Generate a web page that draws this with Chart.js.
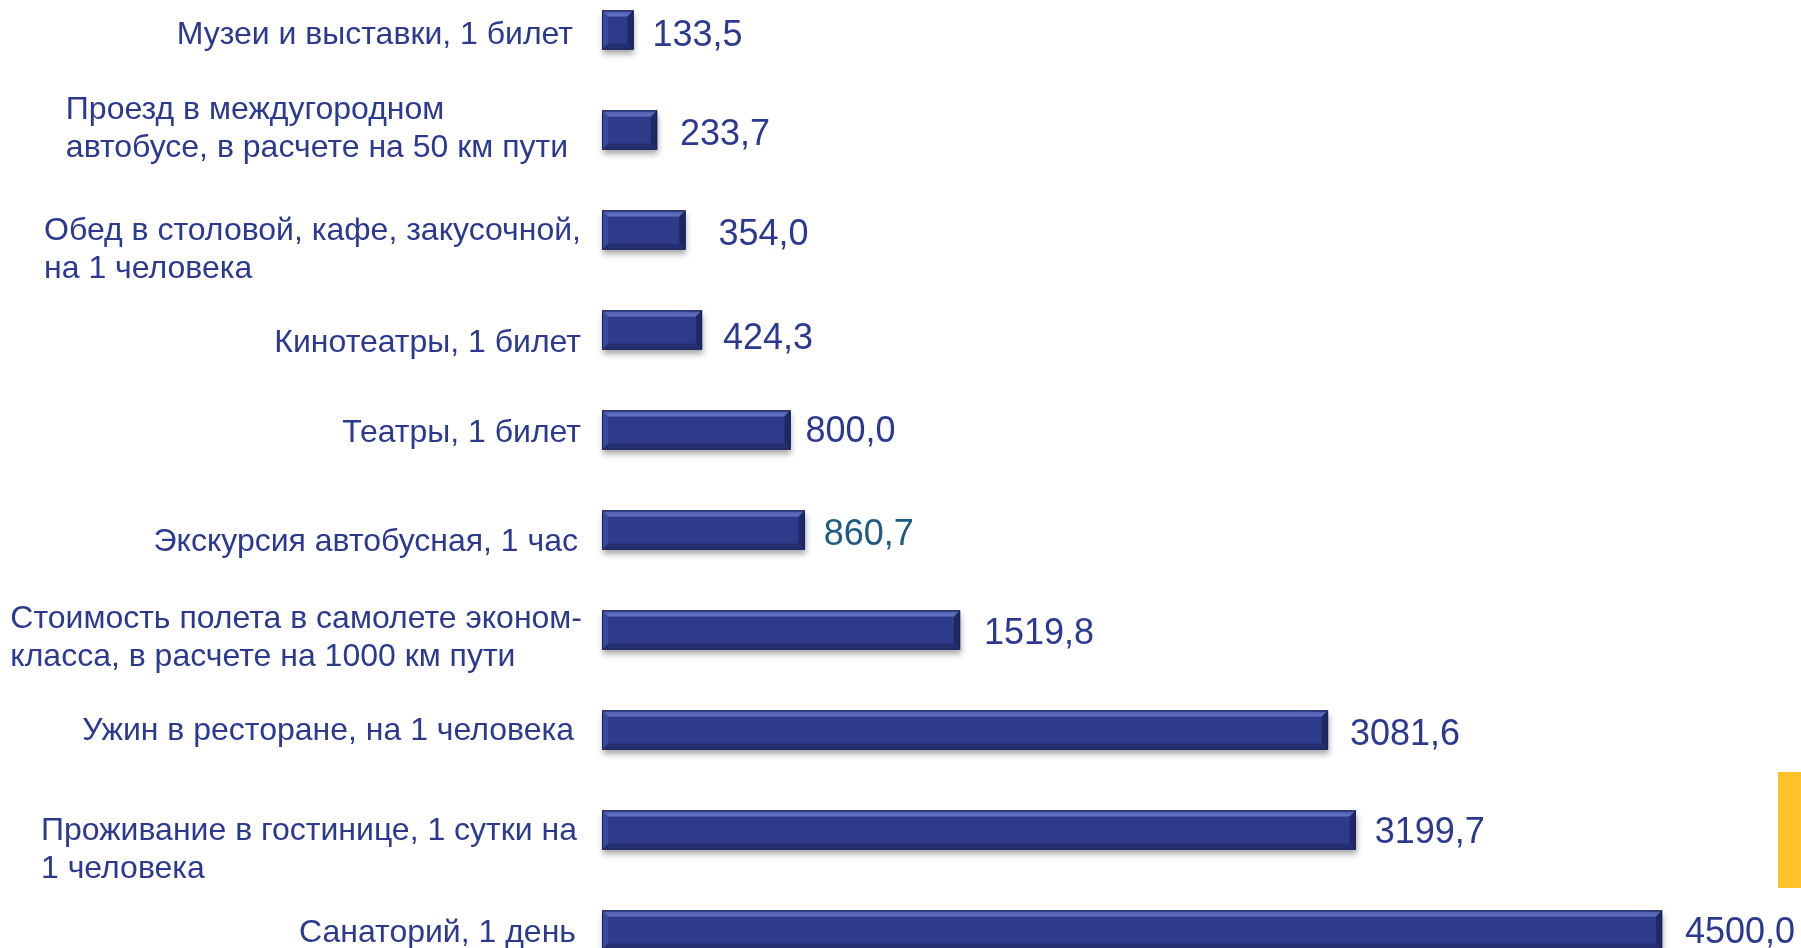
<!DOCTYPE html>
<html>
<head>
<meta charset="utf-8">
<script src="https://cdn.jsdelivr.net/npm/chart.js@4"></script>
<style>
html,body{margin:0;padding:0;background:#fff;overflow:hidden;width:1801px;height:948px;}
#wrap{position:absolute;left:0;top:-20px;width:1801px;height:1000px;}
</style>
</head>
<body>
<div id="wrap"><canvas id="c" width="1801" height="1000"></canvas></div>
<script>
const categories = [
  ["Музеи и выставки, 1 билет"],
  ["Проезд в междугородном", "автобусе, в расчете на 50 км пути"],
  ["Обед в столовой, кафе, закусочной,", "на 1 человека"],
  ["Кинотеатры, 1 билет"],
  ["Театры, 1 билет"],
  ["Экскурсия автобусная, 1 час"],
  ["Стоимость полета в самолете эконом-", "класса, в расчете на 1000 км пути"],
  ["Ужин в ресторане, на 1 человека"],
  ["Проживание в гостинице, 1 сутки на", "1 человека"],
  ["Санаторий, 1 день"]
];
const values = [133.5, 233.7, 354.0, 424.3, 800.0, 860.7, 1519.8, 3081.6, 3199.7, 4500.0];
const valueLabels = ["133,5", "233,7", "354,0", "424,3", "800,0", "860,7", "1519,8", "3081,6", "3199,7", "4500,0"];

const TEXT = '#2B3990';
const FONT = '"Liberation Sans", Arial, sans-serif';

// label placement tweaks (layout only, in pixels)
const layoutTweaks = {
  catDx: [-6, -11, 2, 2, 2, -1, 3, -5, -2, -3],
  catDy: [3, -3, 18, 11, 1, 10, 6, -1, 18, 1],
  valDx: [-3, 1, 11, -1, -7, -3, 2, 0, -3, 1],
  valDy: [3, 2, 2, 6, -1, 2, 1, 2, 0, 0]
};

const bevelPlugin = {
  id: 'bevel',
  beforeDatasetsDraw(chart) {
    const ctx = chart.ctx;
    const meta = chart.getDatasetMeta(0);
    ctx.save();
    meta.data.forEach(bar => {
      const l = Math.min(bar.base, bar.x), r = Math.max(bar.base, bar.x);
      const t = bar.y - bar.height / 2;
      ctx.shadowColor = 'rgba(0,0,0,0.35)';
      ctx.shadowBlur = 6;
      ctx.shadowOffsetY = 4;
      ctx.shadowOffsetX = 1;
      ctx.fillStyle = '#2E3A8A';
      ctx.fillRect(l, t, r - l, bar.height);
    });
    ctx.restore();
  },
  afterDatasetsDraw(chart) {
    const ctx = chart.ctx;
    const meta = chart.getDatasetMeta(0);
    const b = 6;
    ctx.save();
    meta.data.forEach(bar => {
      const l = Math.min(bar.base, bar.x), r = Math.max(bar.base, bar.x);
      const t = bar.y - bar.height / 2, bt = bar.y + bar.height / 2;
      const poly = (pts, c) => {
        ctx.beginPath();
        ctx.moveTo(pts[0][0], pts[0][1]);
        for (let i = 1; i < pts.length; i++) ctx.lineTo(pts[i][0], pts[i][1]);
        ctx.closePath();
        ctx.fillStyle = c;
        ctx.fill();
      };
      const g = ctx.createLinearGradient(0, t, 0, t + b);
      g.addColorStop(0, '#4756A8');
      g.addColorStop(1, '#6675C2');
      poly([[l, t], [r, t], [r - b, t + b], [l + b, t + b]], g);
      poly([[l, t], [l + b, t + b], [l + b, bt - b], [l, bt]], '#3B499C');
      poly([[l, bt], [l + b, bt - b], [r - b, bt - b], [r, bt]], '#252F70');
      poly([[r, t], [r, bt], [r - b, bt - b], [r - b, t + b]], '#1E2862');
      ctx.strokeStyle = '#1A2258';
      ctx.lineWidth = 1;
      ctx.strokeRect(l + 0.5, t + 0.5, r - l - 1, bt - t - 1);
    });
    ctx.restore();
  },
  afterDraw(chart) {
    const ctx = chart.ctx;
    const meta = chart.getDatasetMeta(0);
    const yScale = chart.scales.y;
    ctx.save();
    ctx.textBaseline = 'middle';
    // value labels
    ctx.font = '36px ' + FONT;
    ctx.textAlign = 'left';
    meta.data.forEach((bar, i) => {
      ctx.fillStyle = i === 5 ? '#1F5A80' : TEXT;
      ctx.fillText(valueLabels[i], Math.max(bar.base, bar.x) + 22 + layoutTweaks.valDx[i], bar.y + 3 + layoutTweaks.valDy[i]);
    });
    // category labels
    ctx.font = '32px ' + FONT;
    ctx.fillStyle = TEXT;
    const lh = 38;
    categories.forEach((lines, i) => {
      const right = 579 + layoutTweaks.catDx[i];
      const yc = yScale.getPixelForValue(i) + 2 + layoutTweaks.catDy[i];
      const w = Math.max(...lines.map(s => ctx.measureText(s).width));
      const n = lines.length;
      lines.forEach((s, k) => {
        const y = yc + (k - (n - 1) / 2) * lh;
        if (n === 1) { ctx.textAlign = 'right'; ctx.fillText(s, right, y); }
        else { ctx.textAlign = 'left'; ctx.fillText(s, right - w, y); }
      });
    });
    // yellow decorative block
    ctx.fillStyle = '#FFC12B';
    ctx.fillRect(1778, 772 + 20, 23, 116);
    ctx.restore();
  }
};

new Chart(document.getElementById('c'), {
  type: 'bar',
  data: {
    labels: categories,
    datasets: [{
      data: values,
      backgroundColor: '#2E3A8A',
      borderWidth: 0,
      barThickness: 39
    }]
  },
  options: {
    indexAxis: 'y',
    responsive: false,
    animation: false,
    layout: { padding: { left: 602, right: 0, top: 0, bottom: 0 } },
    plugins: { legend: { display: false }, tooltip: { enabled: false } },
    scales: {
      x: { display: false, min: 0, max: 5090 },
      y: { display: false, offset: true }
    }
  },
  plugins: [bevelPlugin]
});
</script>
</body>
</html>
